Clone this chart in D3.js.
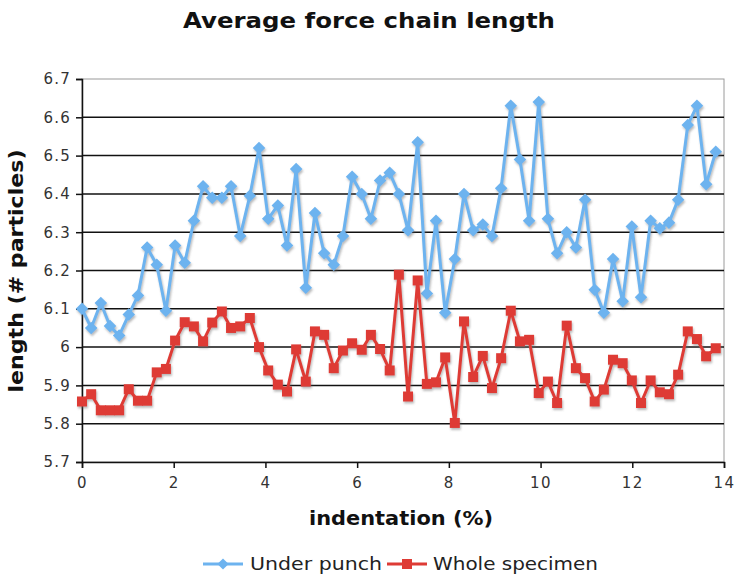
<!DOCTYPE html>
<html>
<head>
<meta charset="utf-8">
<script src="https://cdn.jsdelivr.net/npm/d3@7.9.0/dist/d3.min.js"></script>
<style>
  body { margin: 0; background: #fff; }
  svg { display: block; font-family: "DejaVu Sans", Verdana, sans-serif; }
</style>
</head>
<body>
<svg id="chart" width="737" height="579"></svg>
<script>
// indentation (%) for each sample
const indentation = [0, 0.20, 0.41, 0.61, 0.81, 1.02, 1.22, 1.42, 1.63, 1.83,
  2.03, 2.24, 2.44, 2.64, 2.84, 3.05, 3.25, 3.45, 3.66, 3.86,
  4.06, 4.27, 4.47, 4.67, 4.88, 5.08, 5.28, 5.49, 5.69, 5.89,
  6.10, 6.30, 6.50, 6.71, 6.91, 7.11, 7.32, 7.52, 7.72, 7.92,
  8.13, 8.33, 8.53, 8.74, 8.94, 9.14, 9.35, 9.55, 9.75, 9.96,
  10.16, 10.36, 10.57, 10.77, 10.97, 11.18, 11.38, 11.58, 11.79, 11.99,
  12.19, 12.40, 12.60, 12.80, 13.00, 13.21, 13.41, 13.61, 13.82];

const underPunch = [6.10, 6.05, 6.115, 6.055, 6.03, 6.085, 6.135, 6.26, 6.215, 6.095,
  6.265, 6.22, 6.33, 6.42, 6.39, 6.39, 6.42, 6.29, 6.395, 6.52,
  6.335, 6.37, 6.265, 6.465, 6.155, 6.35, 6.245, 6.215, 6.29, 6.445,
  6.40, 6.335, 6.435, 6.455, 6.40, 6.305, 6.535, 6.14, 6.33, 6.09,
  6.23, 6.40, 6.305, 6.32, 6.29, 6.415, 6.63, 6.49, 6.33, 6.64,
  6.335, 6.245, 6.30, 6.26, 6.385, 6.15, 6.09, 6.23, 6.12, 6.315,
  6.13, 6.33, 6.31, 6.325, 6.385, 6.58, 6.63, 6.425, 6.51];

const wholeSpecimen = [5.858, 5.877, 5.835, 5.835, 5.835, 5.89, 5.86, 5.86, 5.934, 5.943,
  6.017, 6.065, 6.054, 6.015, 6.064, 6.093, 6.05, 6.054, 6.076, 6.0,
  5.939, 5.902, 5.884, 5.994, 5.91, 6.041, 6.032, 5.945, 5.991, 6.01,
  5.993, 6.032, 5.995, 5.939, 6.189, 5.871, 6.174, 5.904, 5.908, 5.973,
  5.802, 6.067, 5.922, 5.977, 5.893, 5.971, 6.095, 6.015, 6.019, 5.88,
  5.91, 5.854, 6.056, 5.945, 5.919, 5.858, 5.889, 5.967, 5.958, 5.913,
  5.854, 5.913, 5.882, 5.877, 5.928, 6.041, 6.021, 5.976, 5.997];

const xTicks = [0, 2, 4, 6, 8, 10, 12, 14];
const yTicks = [5.7, 5.8, 5.9, 6.0, 6.1, 6.2, 6.3, 6.4, 6.5, 6.6, 6.7];
const seriesNames = ["Under punch", "Whole specimen"];

const blue = "#6db3ef";
const red = "#de3b35";

const svg = d3.select("#chart");
const margin = { top: 79, right: 13, bottom: 117, left: 82 };
const W = 737, H = 579;

const x = d3.scaleLinear().domain([0, 14]).range([margin.left, W - margin.right]);
const y = d3.scaleLinear().domain([5.7, 6.7]).range([H - margin.bottom, margin.top]);

// drop shadow like the spreadsheet markers
const defs = svg.append("defs");
defs.append("filter").attr("id", "shadow")
  .attr("x", "-50%").attr("y", "-50%").attr("width", "200%").attr("height", "200%")
  .append("feDropShadow")
  .attr("dx", 1).attr("dy", 2).attr("stdDeviation", 1)
  .attr("flood-color", "#666").attr("flood-opacity", 0.45);

// plot border (top and right grey)
svg.append("rect")
  .attr("x", x(0)).attr("y", y(6.7))
  .attr("width", x(14) - x(0)).attr("height", y(5.7) - y(6.7))
  .attr("fill", "none").attr("stroke", "#9a9a9a").attr("stroke-width", 1);

// horizontal gridlines
svg.append("g")
  .selectAll("line")
  .data(yTicks.filter(d => d > 5.7 && d < 6.7))
  .join("line")
  .attr("x1", x(0)).attr("x2", x(14))
  .attr("y1", d => y(d)).attr("y2", d => y(d))
  .attr("stroke", "#111").attr("stroke-width", 1.5);

// y axis
const yAxis = svg.append("g")
  .attr("transform", `translate(${x(0)},0)`)
  .call(d3.axisLeft(y).tickValues(yTicks).tickSize(6).tickPadding(5)
    .tickFormat(d => d3.format(".1f")(d).replace(/\.0$/, "")));
yAxis.select(".domain").attr("stroke", "#111").attr("stroke-width", 1.5);
yAxis.selectAll(".tick line").attr("stroke", "#111").attr("stroke-width", 1.5);
yAxis.selectAll(".tick text")
  .attr("font-size", 15).attr("fill", "#333").attr("letter-spacing", 1.2)
  .attr("font-family", "DejaVu Sans");

// x axis
const xAxis = svg.append("g")
  .attr("transform", `translate(0,${y(5.7)})`)
  .call(d3.axisBottom(x).tickValues(xTicks).tickSize(6).tickPadding(9));
xAxis.select(".domain").attr("stroke", "#111").attr("stroke-width", 1.5);
xAxis.selectAll(".tick line").attr("stroke", "#111").attr("stroke-width", 1.5);
xAxis.selectAll(".tick text")
  .attr("font-size", 15).attr("fill", "#333").attr("letter-spacing", 1.5)
  .attr("font-family", "DejaVu Sans");

// series
const series = [
  { name: seriesNames[0], values: underPunch, color: blue, shape: d3.symbolDiamond2 },
  { name: seriesNames[1], values: wholeSpecimen, color: red, shape: d3.symbolSquare }
];

const line = d3.line().x(d => x(d[0])).y(d => y(d[1]));

series.forEach(s => {
  const pts = indentation.map((v, i) => [v, s.values[i]]);
  const g = svg.append("g").attr("filter", "url(#shadow)");
  g.append("path")
    .datum(pts)
    .attr("d", line)
    .attr("fill", "none")
    .attr("stroke", s.color)
    .attr("stroke-width", 3)
    .attr("stroke-linejoin", "round");
  g.selectAll("path.pt")
    .data(pts)
    .join("path")
    .attr("class", "pt")
    .attr("transform", d => `translate(${x(d[0])},${y(d[1])})`)
    .attr("d", d3.symbol().type(s.shape).size(s.shape === d3.symbolSquare ? 100 : 100))
    .attr("fill", s.color);
});

// title
svg.append("text")
  .attr("x", 369).attr("y", 28)
  .attr("text-anchor", "middle")
  .attr("font-size", 22).attr("font-weight", "bold").attr("fill", "#111")
  .attr("textLength", 372).attr("lengthAdjust", "spacingAndGlyphs")
  .text("Average force chain length");

// axis titles
svg.append("text")
  .attr("x", 401).attr("y", 525)
  .attr("text-anchor", "middle")
  .attr("font-size", 19).attr("font-weight", "bold").attr("fill", "#111")
  .attr("textLength", 184).attr("lengthAdjust", "spacingAndGlyphs")
  .text("indentation (%)");

svg.append("text")
  .attr("transform", "translate(23,271) rotate(-90)")
  .attr("text-anchor", "middle")
  .attr("font-size", 19).attr("font-weight", "bold").attr("fill", "#111")
  .attr("textLength", 243).attr("lengthAdjust", "spacingAndGlyphs")
  .text("length (# particles)");

// legend
const legendItems = [
  { s: series[0], x0: 203, tx: 250, tl: 132 },
  { s: series[1], x0: 387, tx: 433, tl: 165 }
];
const legend = svg.append("g").attr("transform", "translate(0,564)");
legendItems.forEach(d => {
  legend.append("line")
    .attr("x1", d.x0).attr("x2", d.x0 + 40)
    .attr("stroke", d.s.color).attr("stroke-width", 3);
  legend.append("path")
    .attr("transform", `translate(${d.x0 + 20},0)`)
    .attr("d", d3.symbol().type(d.s.shape).size(d.s.shape === d3.symbolSquare ? 100 : 80))
    .attr("fill", d.s.color);
  legend.append("text")
    .attr("x", d.tx).attr("y", 6)
    .attr("font-size", 17).attr("fill", "#222")
    .attr("textLength", d.tl).attr("lengthAdjust", "spacingAndGlyphs")
    .text(d.s.name);
});
</script>
</body>
</html>
